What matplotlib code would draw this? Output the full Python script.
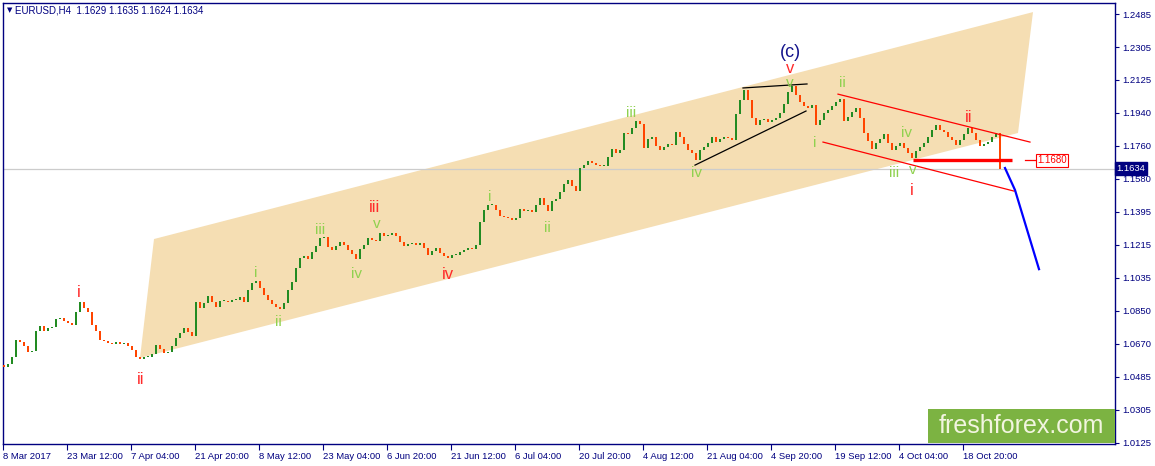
"""
EURUSD H4 - Elliott wave chart (MT4 style)
"""

import numpy as np
import matplotlib.pyplot as plt
from matplotlib.patches import Polygon, Rectangle

plt.rcParams['font.family'] = ['Liberation Sans', 'DejaVu Sans']

# closes of the H4 bars, first open below
first_open = 1.0550
closes = [
    1.0541, 1.0558, 1.0596, 1.0690, 1.0679, 1.0657, 1.0624, 1.0629, 1.0739, 1.0767,
    1.0739, 1.0756, 1.0761, 1.0805, 1.0811, 1.0794, 1.0783, 1.0772, 1.0844, 1.0899,
    1.0866, 1.0844, 1.0772, 1.0739, 1.0690, 1.0684, 1.0673, 1.0668, 1.0679, 1.0668,
    1.0673, 1.0657, 1.0635, 1.0596, 1.0585, 1.0596, 1.0596, 1.0613, 1.0662, 1.0640,
    1.0618, 1.0624, 1.0657, 1.0701, 1.0728, 1.0756, 1.0734, 1.0712, 1.0899, 1.0866,
    1.0893, 1.0932, 1.0899, 1.0871, 1.0904, 1.0904, 1.0899, 1.0910, 1.0910, 1.0926,
    1.0899, 1.0965, 1.1003, 1.1014, 1.0976, 1.0937, 1.0910, 1.0888, 1.0871, 1.0860,
    1.0893, 1.0965, 1.1009, 1.1086, 1.1141, 1.1152, 1.1135, 1.1174, 1.1207, 1.1251,
    1.1257, 1.1202, 1.1185, 1.1207, 1.1229, 1.1213, 1.1185, 1.1163, 1.1135, 1.1191,
    1.1213, 1.1251, 1.1240, 1.1235, 1.1279, 1.1262, 1.1268, 1.1279, 1.1262, 1.1229,
    1.1207, 1.1218, 1.1224, 1.1213, 1.1224, 1.1196, 1.1158, 1.1180, 1.1196, 1.1169,
    1.1152, 1.1141, 1.1158, 1.1158, 1.1174, 1.1185, 1.1196, 1.1191, 1.1213, 1.1340,
    1.1406, 1.1433, 1.1433, 1.1406, 1.1373, 1.1367, 1.1362, 1.1351, 1.1362, 1.1411,
    1.1400, 1.1406, 1.1395, 1.1433, 1.1472, 1.1433, 1.1400, 1.1455, 1.1466, 1.1505,
    1.1549, 1.1571, 1.1538, 1.1510, 1.1637, 1.1653, 1.1675, 1.1664, 1.1653, 1.1648,
    1.1648, 1.1697, 1.1741, 1.1720, 1.1736, 1.1830, 1.1824, 1.1857, 1.1896, 1.1879,
    1.1747, 1.1797, 1.1808, 1.1758, 1.1736, 1.1753, 1.1769, 1.1764, 1.1835, 1.1808,
    1.1769, 1.1736, 1.1720, 1.1681, 1.1736, 1.1753, 1.1775, 1.1808, 1.1780, 1.1797,
    1.1808, 1.1802, 1.1791, 1.1934, 1.2011, 1.2066, 1.2011, 1.1912, 1.1874, 1.1901,
    1.1907, 1.1890, 1.1901, 1.1912, 1.1940, 1.1989, 1.2055, 1.2089, 1.2039, 1.2000,
    1.1978, 1.1967, 1.1984, 1.1874, 1.1901, 1.1940, 1.1956, 1.1978, 1.2000, 1.2017,
    1.1896, 1.1918, 1.1945, 1.1967, 1.1912, 1.1830, 1.1786, 1.1741, 1.1775, 1.1797,
    1.1824, 1.1775, 1.1736, 1.1758, 1.1775, 1.1747, 1.1720, 1.1692, 1.1731, 1.1753,
    1.1775, 1.1808, 1.1846, 1.1874, 1.1846, 1.1835, 1.1808, 1.1791, 1.1764, 1.1791,
    1.1824, 1.1857, 1.1830, 1.1791, 1.1758, 1.1769, 1.1780, 1.1808, 1.1830, 1.1634,
]

x_tick_bars = [16 * k for k in range(16)]
x_tick_labels = ['8 Mar 2017', '23 Mar 12:00', '7 Apr 04:00', '21 Apr 20:00',
                 '8 May 12:00', '23 May 04:00', '6 Jun 20:00', '21 Jun 12:00',
                 '6 Jul 04:00', '20 Jul 20:00', '4 Aug 12:00', '21 Aug 04:00',
                 '4 Sep 20:00', '19 Sep 12:00', '4 Oct 04:00', '18 Oct 20:00']

y_tick_labels = ['1.0125', '1.0305', '1.0485', '1.0670', '1.0850', '1.1035', '1.1215',
                 '1.1395', '1.1580', '1.1760', '1.1940', '1.2125', '1.2305', '1.2485']

last_price = 1.1634
level_price = 1.1680

# drawn objects: (bar, price)
channel = [(34, 1.0591), (37.5, 1.1246), (257.25, 1.2496), (253.5, 1.1830)]
black_lines = [[(172.75, 1.1653), (200.5, 1.1951)],
               [(184.75, 1.2078), (200.75, 1.2100)]]
red_lines = [[(208.5, 1.2044), (256.5, 1.1780)],
             [(204.75, 1.1780), (252.5, 1.1510)]]
level_line = [(227.25, 252)]
forecast = [(250.25, 1.1637), (252.75, 1.1516), (258.75, 1.1080)]

# wave labels: (text, bar, price)
red_waves = [('i', 18.75, 1.0949), ('ii', 34.25, 1.0470), ('iii', 92.75, 1.1422),
             ('iv', 111, 1.1048), ('v', 196.5, 1.2185), ('i', 227, 1.1516),
             ('ii', 241.25, 1.1918)]
green_waves = [('i', 63, 1.1058), ('ii', 68.5, 1.0789), ('iii', 79, 1.1295),
               ('v', 93.25, 1.1329), ('iv', 88, 1.1053), ('i', 121.5, 1.1477),
               ('ii', 135.75, 1.1306), ('iii', 156.75, 1.1940), ('iv', 173, 1.1609),
               ('v', 196.5, 1.2105), ('ii', 209.5, 1.2105), ('i', 202.75, 1.1775),
               ('iv', 225.75, 1.1830), ('iii', 222.5, 1.1609), ('v', 227.25, 1.1626)]

NAVY = '#000080'
UP = '#228b22'
DOWN = '#ff4500'
WAVE_RED = '#ff2a2a'
WAVE_GREEN = '#8fd14f'

fig = plt.figure(figsize=(11.55, 4.66), dpi=100)
ax = fig.add_axes([3 / 1155, 22 / 466, 1112 / 1155, 441 / 466])

# channel
ax.add_patch(Polygon(channel, closed=True, facecolor='#f5deb3', edgecolor='none', zorder=1))

# current price line
ax.axhline(last_price, color='#cccccc', lw=0.9, zorder=1.5)

# candles (bodies get at least ~1 px so flat bars stay visible)
closes_arr = np.array(closes)
opens = np.r_[first_open, closes_arr[:-1]]
idx = np.arange(len(closes_arr))
colors = np.where(closes_arr >= opens, UP, DOWN)
body = closes_arr - opens
body = np.where(np.abs(body) < 0.0007, np.where(body >= 0, 0.0007, -0.0007), body)
ax.bar(idx, body, bottom=opens, width=0.5, color=colors, linewidth=0, zorder=3)

# trend lines
for seg in black_lines:
    xs, ys = zip(*seg)
    ax.plot(xs, ys, color='black', lw=0.9, zorder=4)
for seg in red_lines:
    xs, ys = zip(*seg)
    ax.plot(xs, ys, color='red', lw=0.9, zorder=4)
for x0, x1 in level_line:
    ax.plot([x0, x1], [level_price, level_price], color='red', lw=2.4, zorder=4,
            solid_capstyle='butt')
ax.plot([255.25, 257.75], [level_price, level_price], color='red', lw=0.9, zorder=4)
ax.text(262, level_price, '1.1680', color='red', fontsize=7, ha='center', va='center',
        zorder=5, bbox=dict(boxstyle='square,pad=0.15', fc='white', ec='red', lw=0.8))

xs, ys = zip(*forecast)
ax.plot(xs, ys, color='#0000ff', lw=1.6, zorder=4)

# wave labels
for t, bx, py in red_waves:
    ax.text(bx, py, t, color=WAVE_RED, fontsize=12, ha='center', va='center', zorder=5)
for t, bx, py in green_waves:
    ax.text(bx, py, t, color=WAVE_GREEN, fontsize=11, ha='center', va='center', zorder=5)
ax.text(196.5, 1.2275, '(c)', color='#14148c', fontsize=13, ha='center', va='center', zorder=5)

# axes
ax.set_xlim(-0.25, 277.75)
ax.set_ylim(1.0117, 1.2546)
for sp in ax.spines.values():
    sp.set_color(NAVY)
    sp.set_linewidth(1.0)

ax.set_xticks([b - 0.25 for b in x_tick_bars])
ax.set_xticklabels(x_tick_labels)
ax.tick_params(axis='x', direction='out', length=4, width=0.8, colors=NAVY,
               labelsize=6.8, pad=1.5)
for lab in ax.get_xticklabels():
    lab.set_horizontalalignment('left')

y_ticks = np.linspace(1.0125, 1.2485, len(y_tick_labels))
ax.yaxis.tick_right()
ax.set_yticks(y_ticks)
ax.set_yticklabels(y_tick_labels)
ax.tick_params(axis='y', direction='out', length=3, width=0.8, colors=NAVY,
               labelsize=6.8, pad=2)

# current price tag
ax.text(1.0015, last_price, '1.1634', transform=ax.get_yaxis_transform(), color='white',
        fontsize=6.8, ha='left', va='center', zorder=6, clip_on=False,
        bbox=dict(boxstyle='square,pad=0.2', fc=NAVY, ec=NAVY))

# header
ax.text(0.0036, 0.984, '\u25bc', transform=ax.transAxes, color=NAVY, fontsize=5,
        ha='left', va='center', family='DejaVu Sans')
ax.text(0.011, 0.984, 'EURUSD,H4  1.1629 1.1635 1.1624 1.1634', transform=ax.transAxes,
        color=NAVY, fontsize=7, ha='left', va='center')

# watermark
ax.add_patch(Rectangle((0.8318, 0.0023), 0.1682, 0.0771, transform=ax.transAxes,
                       facecolor='#7cb342', edgecolor='none', zorder=6))
ax.text(0.9159, 0.041, 'freshforex.com', transform=ax.transAxes, color='#f2f5e0',
        fontsize=18, ha='center', va='center', zorder=7,
        family=['Liberation Sans Narrow', 'Liberation Sans', 'DejaVu Sans'])

fig.savefig('out.png', dpi=100, facecolor='white')
